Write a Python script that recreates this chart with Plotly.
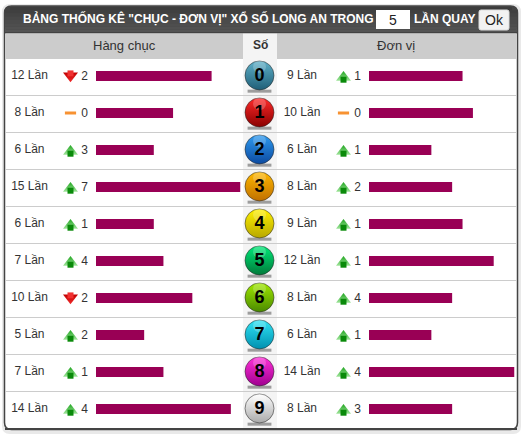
import plotly.graph_objects as go

digits = ["0", "1", "2", "3", "4", "5", "6", "7", "8", "9"]
tens_counts = [12, 8, 6, 15, 6, 7, 10, 5, 7, 14]
tens_delta = [2, 0, 3, 7, 1, 4, 2, 2, 1, 4]
tens_trend = ["down", "flat", "up", "up", "up", "up", "down", "up", "up", "up"]
unit_counts = [9, 10, 6, 8, 9, 12, 8, 6, 14, 8]
unit_delta = [1, 0, 1, 2, 1, 1, 4, 1, 4, 3]
unit_trend = ["up", "flat", "up", "up", "up", "up", "up", "up", "up", "up"]
ball_top = ["#1f5f78", "#8a0000", "#0c4aa0", "#c07000", "#b8a800", "#007a3a", "#4a8a00", "#0090b0", "#a00090", "#aaaaaa"]
ball_bot = ["#5fb0c8", "#ff2a2a", "#2f9bf0", "#ffb800", "#fff000", "#00e878", "#a0e800", "#30e4f4", "#ff30d8", "#ffffff"]
title = 'BẢNG THỐNG KÊ "CHỤC - ĐƠN VỊ" XỔ SỐ LONG AN TRONG'

W, H = 524, 440
TOP, BOT = 58, 429
FONT = "Liberation Sans, Arial, sans-serif"
rows = list(range(10))


def px(x):
    return x / W


def py(y):
    return 1 - y / H


fig = go.Figure()
bar = "#990055"
fig.add_bar(x=tens_counts, y=rows, orientation="h", width=10 / 37, marker=dict(color=bar, line_width=0),
            xaxis="x", yaxis="y", hoverinfo="skip")
fig.add_bar(x=unit_counts, y=rows, orientation="h", width=10 / 37, marker=dict(color=bar, line_width=0),
            xaxis="x2", yaxis="y", hoverinfo="skip")


def overlay(**kw):
    kw.setdefault("hoverinfo", "skip")
    fig.add_scatter(xaxis="x3", yaxis="y", showlegend=False, cliponaxis=False, **kw)


def column(counts, delta, trend, xc, xa, xn):
    overlay(x=[xc] * 10, y=[i + 0.01 for i in rows], mode="text", text=[f"{c} Lần" for c in counts],
            textfont=dict(family=FONT, size=12, color="#333333"))
    overlay(x=[xn] * 10, y=[i + 0.03 for i in rows], mode="text", text=[str(d) for d in delta],
            textfont=dict(family=FONT, size=12, color="#333333"))
    up = [i for i in rows if trend[i] == "up"]
    down = [i for i in rows if trend[i] == "down"]
    flat = [i for i in rows if trend[i] == "flat"]
    if up:
        overlay(x=[xa] * len(up), y=[i + 0.04 for i in up], mode="markers",
                marker=dict(symbol="triangle-up", size=13, color="#1fa51f", line_width=0,
                            gradient=dict(type="vertical", color="#9fe49a")))
        overlay(x=[xa] * len(up), y=[i + 0.1 for i in up], mode="markers",
                marker=dict(symbol="square", size=6, color="#0a8a0a", line_width=0))
    if down:
        overlay(x=[xa] * len(down), y=[i - 0.01 for i in down], mode="markers",
                marker=dict(symbol="triangle-down", size=13, color="#c00000", line_width=0,
                            gradient=dict(type="vertical", color="#f02a2a")))
        overlay(x=[xa] * len(down), y=[i - 0.07 for i in down], mode="markers",
                marker=dict(symbol="square", size=6, color="#f03030", line_width=0))
    if flat:
        overlay(x=[xa] * len(flat), y=flat, mode="markers",
                marker=dict(symbol="line-ew", size=8, line=dict(color="#f79232", width=3)))


column(tens_counts, tens_delta, tens_trend, 29.5, 70.5, 84.5)
column(unit_counts, unit_delta, unit_trend, 302, 343.5, 357.5)

# number balls
overlay(x=[259.5] * 10, y=[i + 0.41 for i in rows], mode="markers",
        marker=dict(symbol="line-ew", size=17, line=dict(color="rgba(70,70,70,0.5)", width=3)))
overlay(x=[259.5] * 10, y=[i - 0.015 for i in rows], mode="markers",
        marker=dict(symbol="circle", size=29, color=ball_bot,
                    gradient=dict(type="vertical", color=ball_top),
                    line=dict(color="rgba(40,40,40,0.55)", width=1)))
overlay(x=[259.5] * 10, y=[i - 0.25 for i in rows], mode="markers",
        marker=dict(symbol="circle", size=13, color="rgba(255,255,255,0.22)", line_width=0))
overlay(x=[259.5] * 10, y=[i + 0.02 for i in rows], mode="text", text=[f"<b>{d}</b>" for d in digits],
        textfont=dict(family=FONT, size=18, color="#000000"))

shapes = []


def rect(x0, y0, x1, y1, fill, line=None, lw=0, layer="below"):
    shapes.append(dict(type="rect", xref="paper", yref="paper", x0=px(x0), x1=px(x1), y0=py(y0), y1=py(y1),
                       fillcolor=fill, line=dict(color=line or fill, width=lw), layer=layer))


def rounded(x0, y0, x1, y1, r, fill, line=None, lw=0):
    a, b, c, d = x0, x1, y0, y1
    path = (f"M {px(a + r)} {py(c)} L {px(b - r)} {py(c)} Q {px(b)} {py(c)} {px(b)} {py(c + r)} "
            f"L {px(b)} {py(d - r)} Q {px(b)} {py(d)} {px(b - r)} {py(d)} L {px(a + r)} {py(d)} "
            f"Q {px(a)} {py(d)} {px(a)} {py(d - r)} L {px(a)} {py(c + r)} Q {px(a)} {py(c)} {px(a + r)} {py(c)} Z")
    shapes.append(dict(type="path", xref="paper", yref="paper", path=path, fillcolor=fill,
                       line=dict(color=line or fill, width=lw), layer="below"))


rounded(2, 4, 521, 434, 8, "#e9e9e9")
rounded(4.5, 6, 517.5, 429.5, 7, "#ffffff", "#444444", 1.5)
# header gradient bands
rounded(4.5, 6, 517.5, 33, 7, "#444444")
bands = ["#3c3c3c", "#404040", "#444444", "#484848", "#4b4b4b", "#4e4e4e", "#515151", "#545454"]
for k, c in enumerate(bands):
    y0 = 7 + k * 3.25
    if k == 0:
        rect(10, y0, 512, y0 + 3.25, c)
    else:
        rect(5, y0, 517, y0 + 3.25, c)
rect(5, 32.5, 517, 33.5, "#333333")
rect(5.2, 33.5, 243, 59, "#cccccc")
rect(277, 33.5, 516.8, 59, "#cccccc")
rect(243, 33.5, 277, 59, "#f4f4f4")
rect(243, 59, 277, 428.5, "#f4f4f4")
for i in range(1, 10):
    yy = 58.5 + 37 * i
    rect(5.2, yy - 0.5, 516.8, yy + 0.5, "#cccccc")
rect(5, 428, 517, 430, "#444444")
rect(376, 10, 410, 29, "#ffffff")
rounded(479, 10, 509, 30, 2, "#f2f2f2", "#dddddd", 1)

annotations = []


def label(x, y, text, size=12, color="#333333", bold=False, anchor="center"):
    annotations.append(dict(xref="paper", yref="paper", x=px(x), y=py(y), text=f"<b>{text}</b>" if bold else text,
                            showarrow=False, xanchor=anchor, yanchor="middle",
                            font=dict(family=FONT, size=size, color=color)))


label(20.5, 18.5, title, bold=True, color="#ffffff", anchor="left")
label(393, 20, "5", size=14, color="#222222")
label(411.5, 18.5, "LẦN QUAY", bold=True, color="#ffffff", anchor="left")
label(494, 20, "Ok", size=14, color="#222222")
label(124, 45.5, "Hàng chục", size=13, color="#333333")
label(260, 45.5, "Số", bold=True, color="#333333")
label(396, 45.5, "Đơn vị", size=13, color="#333333")

hidden = dict(visible=False, fixedrange=True)
fig.update_layout(
    width=W, height=H, margin=dict(l=0, r=0, t=0, b=0, pad=0), autosize=False,
    paper_bgcolor="#ffffff", plot_bgcolor="rgba(0,0,0,0)", showlegend=False, barmode="overlay",
    shapes=shapes, annotations=annotations,
    xaxis=dict(domain=[px(96), px(240.5)], range=[0, 15], **hidden),
    xaxis2=dict(domain=[px(369), px(514.5)], range=[0, 14], anchor="y", **hidden),
    xaxis3=dict(domain=[0, 1], range=[0, W], anchor="y", **hidden),
    yaxis=dict(domain=[py(BOT), py(TOP)], range=[(BOT - 76) / 37, (TOP - 76) / 37], **hidden),
)
fig.write_html("out.html", config=dict(displayModeBar=False),
               post_script="document.body.style.margin='0';document.body.style.overflow='hidden';")
